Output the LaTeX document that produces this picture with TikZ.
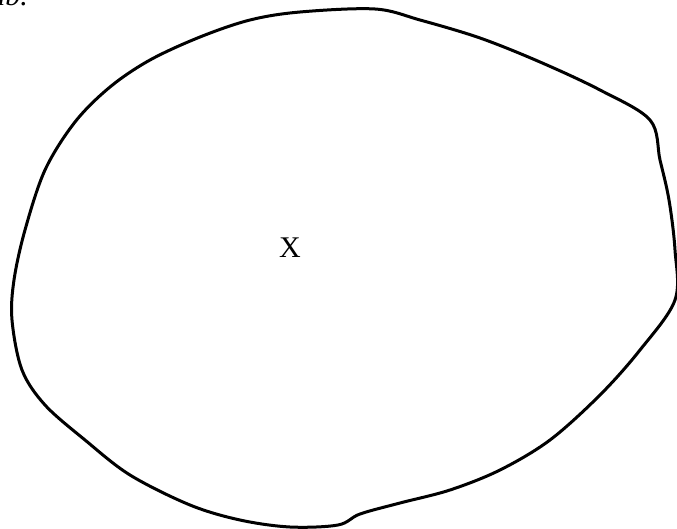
\documentclass[tikz,border=0pt]{standalone}
\usepackage{fontspec}
\setmainfont{Liberation Serif}

\tikzset{
    blob/.style={draw=black,line width=3pt,line join=round},
    setlabel/.style={font=\fontsize{30}{34}\selectfont,inner sep=0pt}
}

\begin{document}
\begin{tikzpicture}[x=1pt,y=-1pt]
    \useasboundingbox (0,0) rectangle (677,529);

    % outline of the set
    \draw[blob] plot[smooth cycle,tension=0.55] coordinates {
        (300,12) (375,9) (420,20) (480,38) (540,62) (600,90) (650,120)
        (660,160) (669,200) (675,250) (675,300) (640,350) (600,395)
        (550,440) (500,470) (450,490) (400,503) (360,514) (338,525)
        (290,527) (240,520) (190,505) (130,475) (85,440) (45,405)
        (22,370) (12,320) (14,280) (25,230) (45,170) (75,122) (110,87)
        (150,60) (200,37) (250,20)};

    \node[setlabel] (X) at (290,248) {X};
    \node[setlabel,font=\fontsize{30}{34}\selectfont\itshape,anchor=base east] (cap) at (28,6) {ab.};
\end{tikzpicture}
\end{document}
